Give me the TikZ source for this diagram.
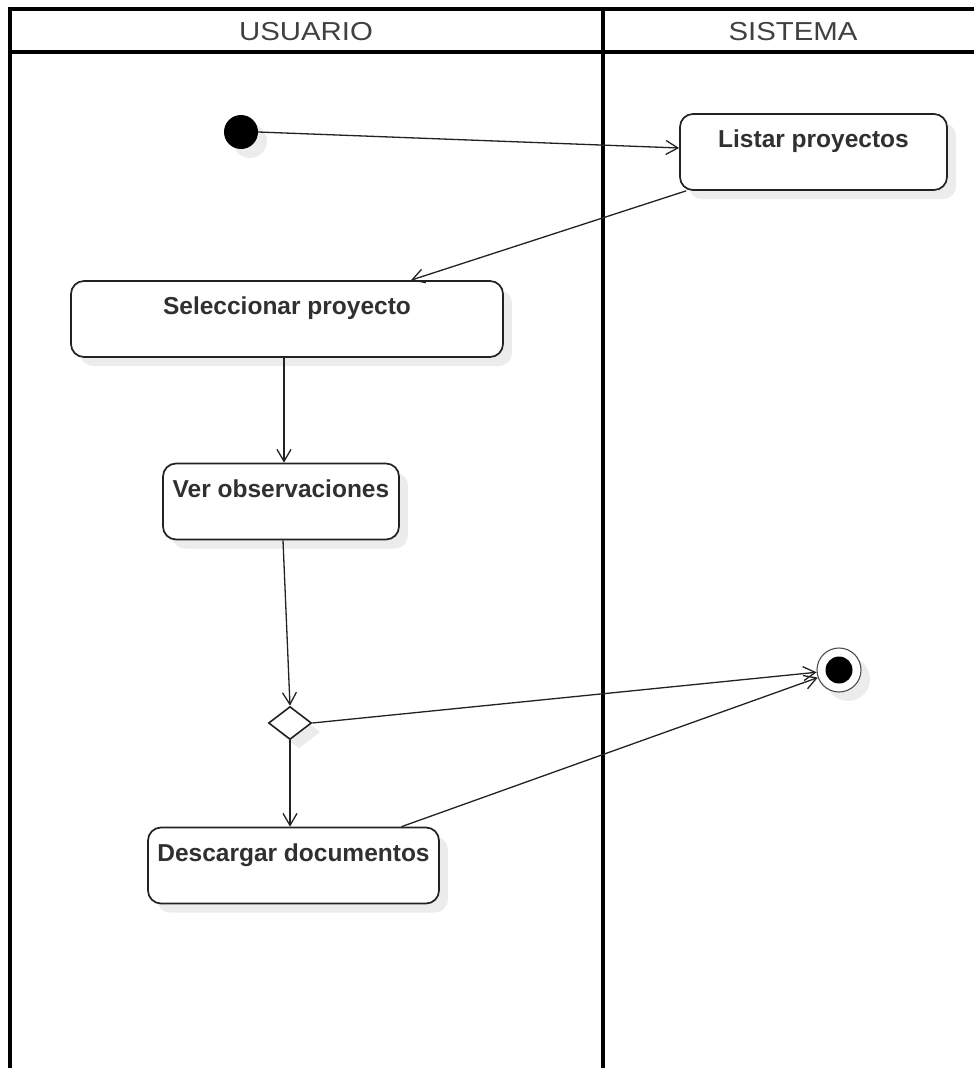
\documentclass[tikz,border=0pt]{standalone}
\usepackage{fontspec}
\setmainfont{Liberation Sans}
\newfontfamily\hdrfont[FakeStretch=1.13]{Liberation Sans}
\usetikzlibrary{shapes.geometric,shadows,arrows.meta,calc}
\definecolor{ink}{HTML}{222222}
\definecolor{txt}{HTML}{303030}
\definecolor{hdrtxt}{HTML}{404040}
\definecolor{shd}{HTML}{ECECEC}
\begin{document}
\begin{tikzpicture}[x=1pt,y=-1pt,
  shd/.style={drop shadow={shadow xshift=9pt, shadow yshift=-9pt, fill=shd, opacity=1}},
  act/.style={draw=ink, line width=1.7pt, rounded corners=13pt, fill=white, shd, inner sep=0pt, minimum height=76pt},
  lbl/.style={font=\fontsize{24.5}{29}\selectfont\bfseries, text=txt, inner sep=0pt, anchor=base},
  hdr/.style={font=\hdrfont\fontsize{26}{30}\selectfont, text=hdrtxt, inner sep=0pt},
  lane/.style={line width=3.4pt, draw=black},
  conn/.style={draw=ink, line width=1.3pt, -{Straight Barb[length=12pt, width=14pt]}}
]
\useasboundingbox (0,0) rectangle (974,1068);
% swimlanes
\draw[lane] (976,9) -- (10,9) -- (10,1070);
\draw[lane] (10,52) -- (976,52);
\draw[lane] (603,9) -- (603,1070);
\node[hdr] (husr) at (306,32) {USUARIO};
\node[hdr] (hsys) at (793,32) {SISTEMA};
% nodes
\node[circle, fill=black, minimum size=34pt, inner sep=0pt, shd] (st) at (241,132) {};
\node[act, minimum width=267pt, label={[lbl, yshift=-34pt]north:Listar proyectos}] (lp) at (813.5,152) {};
\node[act, minimum width=432pt, label={[lbl, yshift=-34pt]north:Seleccionar proyecto}] (sel) at (287,319) {};
\node[act, minimum width=236pt, label={[lbl, yshift=-35pt]north:Ver observaciones}] (ver) at (281,501.5) {};
\node[diamond, draw=ink, line width=1.6pt, fill=white, minimum width=43pt, minimum height=33pt, inner sep=0pt, shd] (dia) at (290,723) {};
\node[act, minimum width=291pt, label={[lbl, yshift=-35pt]north:Descargar documentos}] (des) at (293.5,865.5) {};
\node[circle, draw=ink!80, line width=1.1pt, fill=white, minimum size=44pt, inner sep=0pt, shd] (fin) at (839,670) {};
\node[circle, fill=black, minimum size=27pt, inner sep=0pt] (findot) at (fin.center) {};
% connectors
\draw[conn] (st.east) -- ([yshift=4pt]lp.west);
\draw[conn] ([xshift=7pt]lp.south west) -- ([xshift=124pt]sel.north);
\draw[conn] ([xshift=-3pt]sel.south) -- ([xshift=3pt]ver.north);
\draw[conn] ([xshift=2pt]ver.south) -- (dia.north);
\draw[conn] (dia.east) -- (fin);
\draw[conn] (dia.south) -- (dia.south |- des.north);
\draw[conn] ([xshift=108pt]des.north) -- (fin);
\end{tikzpicture}
\end{document}
